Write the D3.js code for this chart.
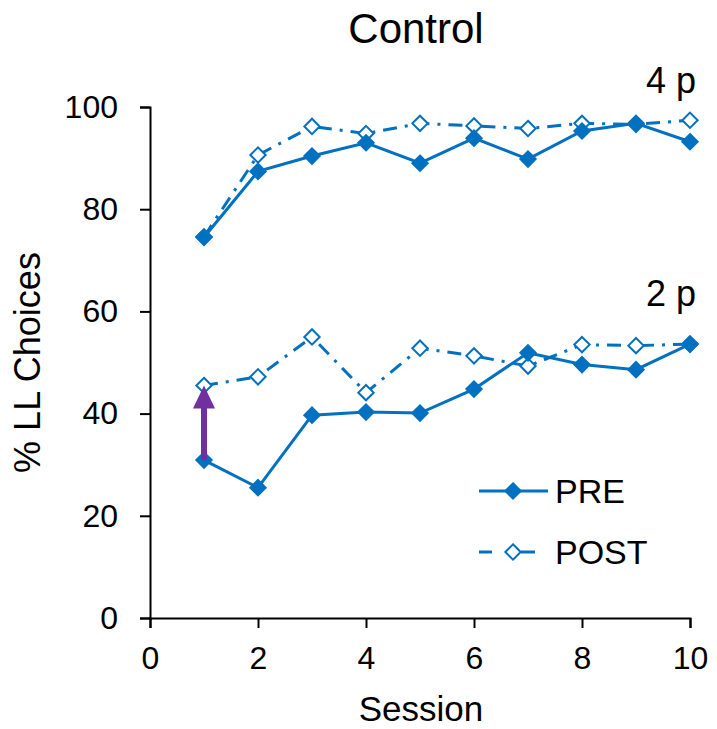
<!DOCTYPE html>
<html>
<head>
<meta charset="utf-8">
<script src="https://cdn.jsdelivr.net/npm/d3@7"></script>
<style>
  body { margin: 0; background: #fff; }
  text { font-family: "Liberation Sans", Arial, sans-serif; fill: #000; }
</style>
</head>
<body>
<div id="plot"></div>
<script>
// sessions 1..10
var sessions = [1, 2, 3, 4, 5, 6, 7, 8, 9, 10];
var pre4 = [74.5, 87.4, 90.4, 93.0, 89.0, 93.9, 89.8, 95.3, 96.8, 93.2];
var post4 = [74.6, 90.6, 96.2, 94.8, 96.8, 96.3, 95.8, 96.8, 96.6, 97.4];
var pre2 = [30.9, 25.5, 39.7, 40.3, 40.1, 44.8, 51.9, 49.6, 48.6, 53.6];
var post2 = [45.5, 47.2, 55.0, 44.1, 52.8, 51.3, 49.3, 53.5, 53.3, 53.6];
var xTicks = [0, 2, 4, 6, 8, 10];
var yTicks = [0, 20, 40, 60, 80, 100];

var width = 717, height = 729;
var margin = {left: 150, right: 27, top: 107, bottom: 111};
var blue = "#0070C0";
var purple = "#7030A0";

var svg = d3.select("#plot").append("svg")
  .attr("width", width)
  .attr("height", height);

var x = d3.scaleLinear().domain([0, 10]).range([margin.left, width - margin.right]);
var y = d3.scaleLinear().domain([0, 100]).range([height - margin.bottom, margin.top]);

// axes
var xAxis = svg.append("g")
  .attr("transform", "translate(0," + y(0) + ")")
  .call(d3.axisBottom(x).tickValues(xTicks).tickSizeOuter(0).tickSize(10).tickPadding(18));
var yAxis = svg.append("g")
  .attr("transform", "translate(" + x(0) + ",0)")
  .call(d3.axisLeft(y).tickValues(yTicks).tickSizeOuter(0).tickSize(10).tickPadding(22));

[xAxis, yAxis].forEach(function (a) {
  a.selectAll("path").attr("stroke", "#000").attr("stroke-width", 2);
  a.selectAll("line").attr("stroke", "#000").attr("stroke-width", 2);
  a.selectAll("text").style("font-size", "32px")
    .style("font-family", '"Liberation Sans", Arial, sans-serif');
});

// titles
svg.append("text").attr("x", 416).attr("y", 43).attr("text-anchor", "middle")
  .style("font-size", "42px").text("Control");
svg.append("text").attr("x", 421).attr("y", 721).attr("text-anchor", "middle")
  .style("font-size", "35px").text("Session");
svg.append("text").attr("transform", "translate(40," + y(50) + ") rotate(-90)")
  .attr("text-anchor", "middle").style("font-size", "36px").text("% LL Choices");

svg.append("text").attr("x", 696).attr("y", 93).attr("text-anchor", "end")
  .style("font-size", "36px").text("4 p");
svg.append("text").attr("x", 696).attr("y", 306).attr("text-anchor", "end")
  .style("font-size", "36px").text("2 p");

var line = d3.line()
  .x(function (d) { return x(d[0]); })
  .y(function (d) { return y(d[1]); });

var diamond = d3.symbol().type(d3.symbolDiamond2).size(150);

function drawSeries(vals, filled) {
  var pts = sessions.map(function (s, i) { return [s, vals[i]]; });
  svg.append("path").datum(pts)
    .attr("d", line)
    .attr("fill", "none")
    .attr("stroke", blue)
    .attr("stroke-width", 3)
    .attr("stroke-dasharray", filled ? null : "14,8,3,8");
  svg.append("g").selectAll("path").data(pts).enter().append("path")
    .attr("transform", function (d) { return "translate(" + x(d[0]) + "," + y(d[1]) + ")"; })
    .attr("d", diamond)
    .attr("fill", filled ? blue : "#fff")
    .attr("stroke", blue)
    .attr("stroke-width", 2);
}

drawSeries(post4, false);
drawSeries(pre4, true);
drawSeries(post2, false);
drawSeries(pre2, true);

// arrow showing PRE -> POST change at session 1 (2 p)
var ax = x(1);
var yStart = y(pre2[0]), yEnd = y(post2[0]);
svg.append("line")
  .attr("x1", ax).attr("x2", ax)
  .attr("y1", yStart).attr("y2", yEnd + 20)
  .attr("stroke", purple).attr("stroke-width", 6);
svg.append("path")
  .attr("d", "M" + (ax - 11) + "," + (yEnd + 23) + "L" + ax + "," + yEnd + "L" + (ax + 11) + "," + (yEnd + 23) + "Z")
  .attr("fill", purple);

// legend
var legend = [{name: "PRE", filled: true, yy: 491}, {name: "POST", filled: false, yy: 552}];
legend.forEach(function (l) {
  if (l.filled) {
    svg.append("line").attr("x1", 479).attr("x2", 548).attr("y1", l.yy).attr("y2", l.yy)
      .attr("stroke", blue).attr("stroke-width", 3);
  } else {
    svg.append("line").attr("x1", 479).attr("x2", 492).attr("y1", l.yy).attr("y2", l.yy)
      .attr("stroke", blue).attr("stroke-width", 3);
    svg.append("line").attr("x1", 521).attr("x2", 535).attr("y1", l.yy).attr("y2", l.yy)
      .attr("stroke", blue).attr("stroke-width", 3);
  }
  svg.append("path").attr("transform", "translate(513," + l.yy + ")")
    .attr("d", diamond)
    .attr("fill", l.filled ? blue : "#fff")
    .attr("stroke", blue).attr("stroke-width", 2);
  svg.append("text").attr("x", 555).attr("y", l.yy + 12)
    .style("font-size", "34px").text(l.name);
});
</script>
</body>
</html>
